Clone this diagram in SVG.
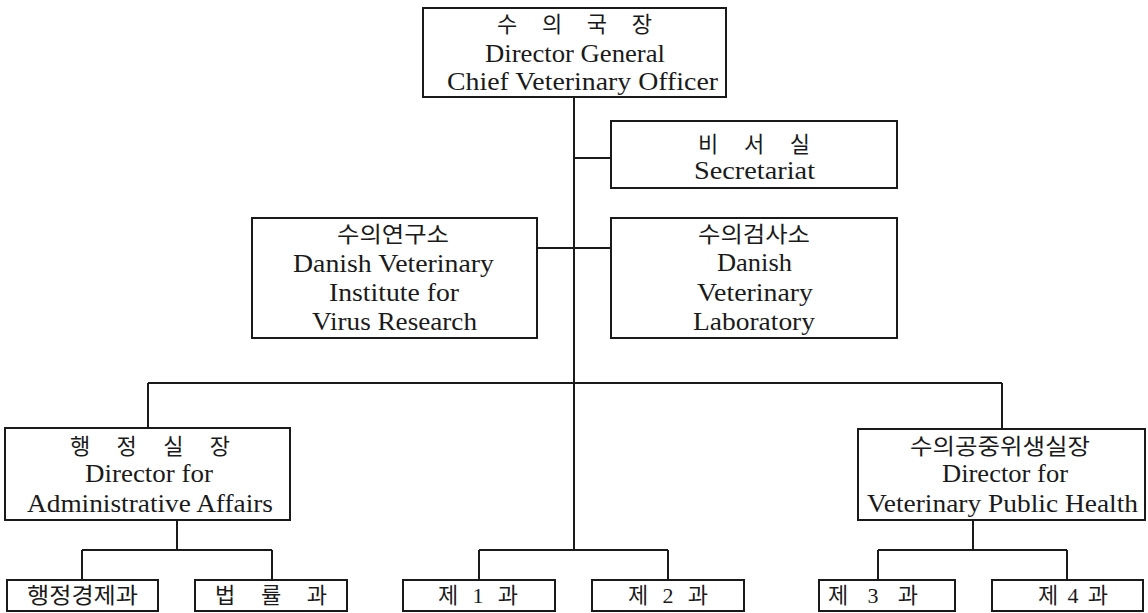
<svg xmlns="http://www.w3.org/2000/svg" width="1148" height="613" viewBox="0 0 1148 613">
<style>
.box{fill:#fff;stroke:#1a1a1a;stroke-width:2}
.ln{fill:none;stroke:#1a1a1a;stroke-width:2}
text{font-family:"Liberation Serif","Noto Sans CJK KR",serif;fill:#1a1a1a;text-anchor:middle}
.en{font-size:25px}
.ko{font-size:22px}
</style>
<rect width="1148" height="613" fill="#fff"/>
<g id="connectors">
<path class="ln" d="M574 97V550M574 158H611M537 248H611M148 383H1002M148 383V428M1002 383V429"/>
<path class="ln" d="M177 520V550M82 550H272M82 550V580M272 550V580"/>
<path class="ln" d="M479 550H668M479 550V580M668 550V580"/>
<path class="ln" d="M973 520V550M878 550H1067M878 550V580M1067 550V580"/>
</g>
<g id="director-general">
<rect class="box" x="423" y="8" width="303" height="89"/>
<text class="ko" x="574.5" y="32" textLength="155" lengthAdjust="spacing">수 의 국 장</text>
<text class="en" x="575" y="62" textLength="180" lengthAdjust="spacingAndGlyphs">Director General</text>
<text class="en" x="582.5" y="90" textLength="271" lengthAdjust="spacingAndGlyphs">Chief  Veterinary  Officer</text>
</g>
<g id="secretariat">
<rect class="box" x="611" y="121" width="286" height="67"/>
<text class="ko" x="754" y="152" textLength="112" lengthAdjust="spacing">비 서 실</text>
<text class="en" x="754.5" y="179" textLength="121" lengthAdjust="spacingAndGlyphs">Secretariat</text>
</g>
<g id="virus-institute">
<rect class="box" x="252" y="218" width="285" height="120"/>
<text class="ko" x="393" y="242" textLength="112" lengthAdjust="spacingAndGlyphs">수의연구소</text>
<text class="en" x="393.5" y="272" textLength="201" lengthAdjust="spacingAndGlyphs">Danish Veterinary</text>
<text class="en" x="394" y="301" textLength="130" lengthAdjust="spacingAndGlyphs">Institute for</text>
<text class="en" x="394.5" y="330" textLength="165" lengthAdjust="spacingAndGlyphs">Virus Research</text>
</g>
<g id="veterinary-laboratory">
<rect class="box" x="611" y="218" width="286" height="120"/>
<text class="ko" x="754" y="242" textLength="112" lengthAdjust="spacingAndGlyphs">수의검사소</text>
<text class="en" x="754.5" y="271" textLength="75" lengthAdjust="spacingAndGlyphs">Danish</text>
<text class="en" x="755" y="301" textLength="116" lengthAdjust="spacingAndGlyphs">Veterinary</text>
<text class="en" x="754" y="330" textLength="122" lengthAdjust="spacingAndGlyphs">Laboratory</text>
</g>
<g id="admin-director">
<rect class="box" x="5" y="428" width="285" height="92"/>
<text class="ko" x="150" y="454" textLength="160" lengthAdjust="spacing">행 정 실 장</text>
<text class="en" x="149" y="482" textLength="128" lengthAdjust="spacingAndGlyphs">Director for</text>
<text class="en" x="150" y="512" textLength="246" lengthAdjust="spacingAndGlyphs">Administrative Affairs</text>
</g>
<g id="public-health-director">
<rect class="box" x="858" y="429" width="287" height="91"/>
<text class="ko" x="1000" y="454" textLength="180" lengthAdjust="spacingAndGlyphs">수의공중위생실장</text>
<text class="en" x="1005" y="482" textLength="126" lengthAdjust="spacingAndGlyphs">Director for</text>
<text class="en" x="1002.5" y="512" textLength="271" lengthAdjust="spacingAndGlyphs">Veterinary Public Health</text>
</g>
<g id="admin-economy">
<rect class="box" x="7" y="580" width="151" height="31"/>
<text class="ko" x="82.5" y="603" textLength="111" lengthAdjust="spacingAndGlyphs">행정경제과</text>
</g>
<g id="legal">
<rect class="box" x="195" y="580" width="152" height="31"/>
<text class="ko" x="271" y="603" textLength="112" lengthAdjust="spacing">법 률 과</text>
</g>
<g id="division-1">
<rect class="box" x="403" y="580" width="152" height="31"/>
<text class="ko" x="478" y="603" textLength="80" lengthAdjust="spacing">제 1 과</text>
</g>
<g id="division-2">
<rect class="box" x="592" y="580" width="152" height="31"/>
<text class="ko" x="668" y="603" textLength="80" lengthAdjust="spacing">제 2 과</text>
</g>
<g id="division-3">
<rect class="box" x="819" y="580" width="136" height="31"/>
<text class="ko" x="873" y="603" textLength="90" lengthAdjust="spacing">제 3 과</text>
</g>
<g id="division-4">
<rect class="box" x="992" y="580" width="151" height="31"/>
<text class="ko" x="1073" y="603" textLength="70" lengthAdjust="spacing">제 4 과</text>
</g>
</svg>
